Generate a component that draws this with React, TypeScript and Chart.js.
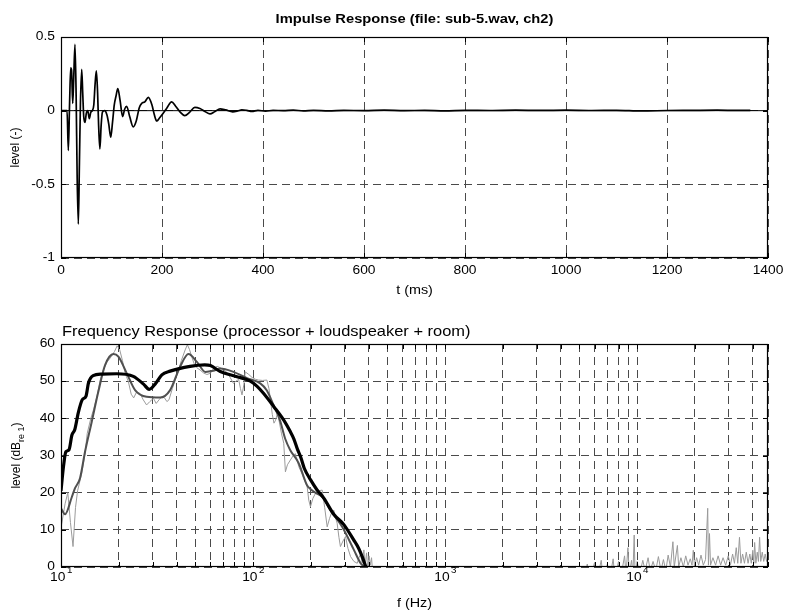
import React, { useEffect, useRef } from "react";
import { Chart, registerables } from "chart.js";

Chart.register(...registerables);

const FONT = '"Liberation Sans", Arial, Helvetica, sans-serif';
const SX = 1.15; // horizontal stretch of the reference text
const GRID = "#4a4a4a";

// ---------------- Impulse response (top) ----------------
const irTimeMs = [
  0, 12, 14.5, 17, 19.2, 21, 23.2, 25, 27.7, 30, 32, 34.3, 36.5, 38.5, 41, 43, 45, 47.5, 50, 53, 56, 59, 62, 65,
  67.5, 70, 72.5, 74.5, 77, 79.5, 82, 86.5, 91, 94.5, 98.5, 102, 105.5, 109, 112.5, 117, 122, 126, 130, 136, 143,
  149, 155, 160, 166, 173, 180, 185, 189.5, 195, 202, 210, 219, 227, 236, 245, 255, 265, 275, 285, 295, 305, 315,
  326, 340, 350, 358, 368, 378, 390, 405, 420, 440, 460, 480, 500, 530, 560, 600, 640, 680, 720, 760, 800, 850,
  900, 950, 1000, 1050, 1100, 1150, 1200, 1250, 1300, 1340, 1365,
];
const irLevel = [
  0, 0, -0.27, 0.05, 0.29, 0.27, 0.05, 0.2, 0.45, 0.1, -0.45, -0.77, -0.35, 0.05, 0.28, 0.12, -0.04, -0.08, -0.02,
  0.0, -0.055, -0.01, 0.0, 0.04, 0.18, 0.27, 0.12, -0.1, -0.26, -0.1, -0.01, 0.0, -0.03, -0.09, -0.18, -0.08, 0.04,
  0.1, 0.15, 0.07, -0.04, 0.01, 0.03, -0.04, -0.11, -0.07, 0.02, 0.05, 0.06, 0.09, 0.04, -0.03, -0.07, -0.05, -0.02,
  0.02, 0.06, 0.03, -0.01, -0.034, -0.01, 0.022, 0.015, -0.005, -0.022, -0.005, 0.012, 0.005, -0.008, -0.002, 0.006,
  0.002, -0.005, 0.002, -0.003, 0.002, 0.0, 0.003, -0.001, 0.002, -0.002, 0.002, 0.0, 0.003, 0.0, 0.002, -0.002,
  0.002, 0.001, 0.003, 0.002, 0.003, 0.001, 0.002, -0.002, 0.001, 0.002, 0.003, 0.002, 0.002,
];
const zeroLineT = [0, 1400];
const zeroLineLevel = [0, 0];
const irXTicks = [0, 200, 400, 600, 800, 1000, 1200, 1400];
const irXTickLabels = ["0", "200", "400", "600", "800", "1000", "1200", "1400"];
const irYTicks = [-1, -0.5, 0, 0.5];
const irYTickLabels = ["-1", "-0.5", "0", "0.5"];

// ---------------- Frequency response (bottom) ----------------
const rawFreq = [
  10, 10.5, 10.85, 11.2, 11.55, 11.9, 12.2, 12.8, 13.3, 13.7, 14.3, 14.8, 15.4, 16.0, 16.6, 17.3, 18.2, 19.0, 19.6,
  20.2, 20.9, 21.6, 22.4, 23.2, 23.9, 24.7, 25.8, 26.8, 27.9, 29.0, 30.3, 31.3, 32.4, 33.5, 34.6, 35.6, 36.5, 38.0,
  40.1, 42.3, 44.3, 45.5, 46.7, 47.9, 49.5, 51, 53, 55.3, 57.5, 59.9, 62.5, 65, 67.5, 70.5, 73.3, 76, 79, 81.5,
  84.1, 86, 87.6, 89.5, 91.1, 95, 98.8, 103, 106.8, 112, 118, 121, 123.5, 126, 128.5, 131, 134, 137, 140.5, 144.5,
  147.4, 151, 156.5, 162, 166, 170, 173, 180, 186, 191.3, 195, 199, 205, 211.3, 220, 229, 236, 243.2, 250, 256,
  263.3, 268, 274, 280, 285, 294, 303, 312, 322, 335, 348.7, 356, 363, 370, 377.6, 383, 390, 396, 402, 408, 414,
  420, 430, 480, 1000, 4500,
  5200, 5500, 5650, 6000, 6150, 6500, 6650, 7000, 7200, 7500, 7650, 8000, 8200, 8600, 8750, 8950, 9100, 9350, 9500,
  9650, 9750, 10000, 10300, 10700, 11000, 11400, 11700, 12100, 12500, 12900, 13300, 13700, 14100, 14500, 14900,
  15350, 15600, 16200, 16450, 16900, 17400, 17900, 18400, 18900, 19300, 19600, 19900, 20400, 20900, 21500, 22100,
  22700, 23300, 23500, 23800, 24100, 24800, 25600, 26400, 27200, 28000, 28900, 29800, 30600, 31400, 32100, 32800,
  33400, 34100, 34700, 35400, 36200, 37000, 37800, 38600, 39300, 40000, 40500, 40900, 41500, 42200, 42800, 43400,
  44000, 44800, 45600, 46400, 47200, 48000,
];
const rawLevel = [
  10.5, 17, 20, 12, 5.5, 16, 20.5, 25, 30, 36, 40, 42.5, 46, 50.3, 53, 55, 56.5, 58, 59.5,
  58.5, 55.5, 52, 50, 46.5, 45.5, 47, 46.7, 45, 43.6, 44.5, 45.4, 44, 45, 45.8, 45.5, 44.5, 45, 48,
  51.5, 55.5, 58.4, 59.8, 58.5, 56.6, 54.5, 53.6, 53, 52.2, 51.8, 52.1, 53.5, 54, 53.6, 53, 52.3, 51, 49.4, 50,
  50.5, 48, 46.3, 49, 52.5, 51.8, 51, 50.5, 50.3, 50.2, 50.3, 48, 44.5, 41, 38.7, 39.5, 41.3, 39, 36, 33.3,
  25.6, 27.5, 28.8, 30, 30.5, 28.5, 27, 25, 23, 21.6, 18, 16.2, 18.5, 19.8, 20.5, 20.7, 16, 10.8, 13, 14.5,
  15.3, 13.5, 11.8, 8, 5.5, 7, 8.2, 5, 2.8, 1.5, 1, 2.5, 3.5, 1, 4.6, 0.5, 3.8, -1, 3, 0.5, 2.5,
  -2, -8, -25, -25, -25,
  -4, 0.8, -4, 1.2, -4, 1.8, -3, 0.8, -3, 2.2, -3, 1.5, -3, 3, -2, 5.2, -2, 1.8, -2,
  8.6, -2, 1.5, -2, 1.8, -1, 2.5, -1, 1.5, -1, 2.8, -1, 2, -1, 3.2, 0,
  6.8, 0, 5.8, 0, 2.5, 0, 3, 0.5, 2.2, 0.5, 4.5, 0, 2.5, 0.5, 3.2, 0.5,
  2, 15.8, 0.5, 9, 0.5, 2.5, 0.5, 3, 0.5, 2.5, 0.5, 3, 0.5, 3.5, 1, 5.2,
  1, 8, 1, 3.5, 1, 4, 1, 3.5, 1, 4.5, 1, 6.6, 1, 4, 1.5, 8,
  1.5, 4, 1.5, 3.5, 1.5, 2.5,
];

const smoothFreq = [
  10, 10.5, 11.4, 11.83, 12.56, 13.34, 14.46, 15.65, 16.96, 18.75, 19.9, 22, 24.3, 27.9, 32.8, 37, 41.7, 46.1, 51,
  56.5, 62, 67.5, 79, 93, 109, 118, 128, 138, 147, 156, 173, 191, 199, 211, 229, 253, 291, 335, 363, 378, 420,
];
const smoothLevel = [
  15.8, 14.2, 18.9, 21.2, 23.9, 31, 39.1, 47.2, 54.3, 57.3, 56.6, 52.1, 47.6, 45.8, 45.6, 47.6, 53.9, 57.3, 55.2,
  52.5, 52.8, 53.4, 52.5, 50.8, 49.4, 47.5, 43.5, 39.5, 34.5, 31.5, 27.9, 22, 21, 20, 18.9, 15.3, 10.8, 4.6, 1, 0,
  -5,
];

const octFreq = [
  10, 10.3, 10.6, 11.0, 11.4, 11.8, 12.3, 12.9, 13.5, 13.9, 14.7, 16.3, 19.5, 23.8, 26.9, 28.8, 30.9, 33.5, 37, 47,
  56, 60, 67.5, 82.5, 96.8, 105, 113, 128, 144.5, 156, 163, 170, 177, 185, 199, 215, 233, 263, 297, 334, 355, 370,
  385, 420,
];
const octLevel = [
  20.5, 27, 31, 31.5, 35.5, 37, 41.5, 45, 46, 49.5, 51.5, 51.9, 52, 51.3, 49.2, 47.8, 49.2, 51.7, 52.7, 54, 54.4,
  54.2, 52.6, 51.2, 50, 48.6, 46.8, 43.2, 39.5, 36.5, 34.5, 31.8, 29.6, 26.5, 23.5, 20.8, 18.6, 14.2, 11.4, 7.3, 5,
  2.8, 0.3, -5,
];

const frGridFreqs = [
  10, 20, 30, 40, 50, 60, 70, 80, 90, 100, 200, 300, 400, 500, 600, 700, 800, 900, 1000, 2000, 3000, 4000, 5000,
  6000, 7000, 8000, 9000, 10000, 20000, 30000, 40000, 48000,
];
const frXLabelValues = [10, 100, 1000, 10000];
const frXLabelExponents = ["1", "2", "3", "4"];
const frYTicks = [0, 10, 20, 30, 40, 50, 60];
const frYTickLabels = ["0", "10", "20", "30", "40", "50", "60"];

// ---------------- helpers ----------------
function txt(ctx: any, s: string, x: number, y: number, size: number, align: string, weight = "normal", sx = SX) {
  ctx.save();
  ctx.font = `${weight} ${size}px ${FONT}`;
  ctx.fillStyle = "#000";
  ctx.textBaseline = "middle";
  ctx.textAlign = align;
  ctx.translate(x, y);
  ctx.scale(sx, 1);
  ctx.fillText(s, 0, 0);
  ctx.restore();
}

function drawBox(ctx: any, a: any) {
  ctx.save();
  ctx.strokeStyle = "#000";
  ctx.lineWidth = 1.2;
  const l = Math.round(a.left) + 0.5;
  const t = Math.round(a.top) + 0.5;
  const r = Math.round(a.right) - 0.5;
  const b = Math.round(a.bottom) - 0.5;
  ctx.strokeRect(l, t, r - l, b - t);
  ctx.restore();
}

function tickMarks(ctx: any, a: any, xs: number[], ys: number[], len = 5) {
  ctx.save();
  ctx.strokeStyle = "#000";
  ctx.lineWidth = 1;
  ctx.beginPath();
  xs.forEach((px) => {
    const p = Math.round(px) + 0.5;
    ctx.moveTo(p, a.bottom);
    ctx.lineTo(p, a.bottom - len);
    ctx.moveTo(p, a.top);
    ctx.lineTo(p, a.top + len);
  });
  ys.forEach((py) => {
    const p = Math.round(py) + 0.5;
    ctx.moveTo(a.left, p);
    ctx.lineTo(a.left + len, p);
    ctx.moveTo(a.right, p);
    ctx.lineTo(a.right - len, p);
  });
  ctx.stroke();
  ctx.restore();
}

const topDecor = {
  id: "topDecor",
  afterDraw(chart: any) {
    const { ctx, chartArea: a, scales } = chart;
    const xs = scales.x;
    const ys = scales.y;
    drawBox(ctx, a);
    tickMarks(
      ctx,
      a,
      irXTicks.map((v) => xs.getPixelForValue(v)),
      irYTicks.map((v) => ys.getPixelForValue(v))
    );
    irXTicks.forEach((v, i) => txt(ctx, irXTickLabels[i], xs.getPixelForValue(v), 271, 12, "center"));
    irYTicks.forEach((v, i) => txt(ctx, irYTickLabels[i], 55, ys.getPixelForValue(v), 12, "right"));
    const cx = (a.left + a.right) / 2;
    txt(ctx, "Impulse Response (file: sub-5.wav, ch2)", cx, 19, 12.8, "center", "bold");
    txt(ctx, "t (ms)", cx, 291, 12.5, "center");
    ctx.save();
    ctx.translate(15.5, (a.top + a.bottom) / 2);
    ctx.rotate(-Math.PI / 2);
    ctx.font = `12px ${FONT}`;
    ctx.fillStyle = "#000";
    ctx.textAlign = "center";
    ctx.textBaseline = "middle";
    ctx.fillText("level (-)", 0, 0);
    ctx.restore();
  },
};

const bottomDecor = {
  id: "bottomDecor",
  afterDraw(chart: any) {
    const { ctx, chartArea: a, scales } = chart;
    const xs = scales.x;
    const ys = scales.y;
    drawBox(ctx, a);
    tickMarks(
      ctx,
      a,
      frGridFreqs.map((v) => xs.getPixelForValue(v)),
      frYTicks.map((v) => ys.getPixelForValue(v))
    );
    frYTicks.forEach((v, i) => txt(ctx, frYTickLabels[i], 55, ys.getPixelForValue(v), 12, "right"));
    frXLabelValues.forEach((v, i) => {
      const px = xs.getPixelForValue(v);
      ctx.save();
      ctx.font = `12px ${FONT}`;
      const w1 = ctx.measureText("10").width * SX;
      ctx.font = `8.5px ${FONT}`;
      const w2 = ctx.measureText(frXLabelExponents[i]).width * SX;
      ctx.restore();
      const start = px - (w1 + w2 + 1) / 2;
      txt(ctx, "10", start, 277.5, 12, "left");
      txt(ctx, frXLabelExponents[i], start + w1 + 1.5, 270.5, 8.5, "left");
    });
    txt(ctx, "Frequency Response (processor + loudspeaker + room)", 62, 32, 14.3, "left");
    txt(ctx, "f (Hz)", (a.left + a.right) / 2, 303.5, 12.5, "center");
    ctx.save();
    ctx.translate(17, (a.top + a.bottom) / 2);
    ctx.rotate(-Math.PI / 2);
    ctx.fillStyle = "#000";
    ctx.textBaseline = "middle";
    ctx.textAlign = "left";
    const p1 = "level (dB";
    const sub = "re 1";
    const p3 = ")";
    ctx.font = `12px ${FONT}`;
    const w1 = ctx.measureText(p1).width;
    const w3 = ctx.measureText(p3).width;
    ctx.font = `9px ${FONT}`;
    const w2 = ctx.measureText(sub).width;
    let x0 = -(w1 + w2 + w3) / 2;
    ctx.font = `12px ${FONT}`;
    ctx.fillText(p1, x0, 0);
    x0 += w1;
    ctx.font = `9px ${FONT}`;
    ctx.fillText(sub, x0, 4.5);
    x0 += w2;
    ctx.font = `12px ${FONT}`;
    ctx.fillText(p3, x0, 0);
    ctx.restore();
  },
};

function pts(xs: number[], ys: number[]) {
  return xs.map((x, i) => ({ x, y: ys[i] }));
}

function gridAxis(extra: any) {
  return {
    ticks: { display: false },
    grid: { color: GRID, lineWidth: 1, drawTicks: false },
    border: { display: false, dash: [8, 5] },
    ...extra,
  };
}

export default function App() {
  const topRef = useRef<HTMLCanvasElement>(null);
  const botRef = useRef<HTMLCanvasElement>(null);

  useEffect(() => {
    const common = {
      responsive: false,
      animation: false as const,
      devicePixelRatio: 1,
      events: [] as any[],
      plugins: { legend: { display: false }, tooltip: { enabled: false }, title: { display: false } },
    };
    const top = new Chart(topRef.current as HTMLCanvasElement, {
      type: "scatter",
      data: {
        datasets: [
          {
            data: pts(irTimeMs, irLevel),
            showLine: true,
            borderColor: "#000",
            borderWidth: 1.7,
            pointRadius: 0,
            cubicInterpolationMode: "monotone",
          },
          {
            data: pts(zeroLineT, zeroLineLevel),
            showLine: true,
            borderColor: "#000",
            borderWidth: 1,
            pointRadius: 0,
          },
        ],
      },
      options: {
        ...common,
        layout: { padding: { left: 0, right: 19, top: 37, bottom: 0 } },
        scales: {
          x: gridAxis({
            type: "linear",
            min: 0,
            max: 1400,
            afterBuildTicks: (s: any) => {
              s.ticks = irXTicks.map((v) => ({ value: v }));
            },
            afterFit: (s: any) => {
              s.height = 42;
            },
          }),
          y: gridAxis({
            type: "linear",
            min: -1,
            max: 0.5,
            afterBuildTicks: (s: any) => {
              s.ticks = irYTicks.map((v) => ({ value: v }));
            },
            afterFit: (s: any) => {
              s.width = 61;
            },
          }),
        },
      } as any,
      plugins: [topDecor],
    });

    const bottom = new Chart(botRef.current as HTMLCanvasElement, {
      type: "scatter",
      data: {
        datasets: [
          {
            data: pts(octFreq, octLevel),
            showLine: true,
            borderColor: "#000",
            borderWidth: 3.2,
            pointRadius: 0,
            cubicInterpolationMode: "monotone",
          },
          {
            data: pts(smoothFreq, smoothLevel),
            showLine: true,
            borderColor: "#505050",
            borderWidth: 2,
            pointRadius: 0,
            cubicInterpolationMode: "monotone",
          },
          {
            data: pts(rawFreq, rawLevel),
            showLine: true,
            borderColor: "#9a9a9a",
            borderWidth: 1,
            pointRadius: 0,
            tension: 0,
          },
        ],
      },
      options: {
        ...common,
        layout: { padding: { left: 0, right: 19, top: 44, bottom: 0 } },
        scales: {
          x: gridAxis({
            type: "logarithmic",
            min: 10,
            max: 48000,
            afterBuildTicks: (s: any) => {
              s.ticks = frGridFreqs.map((v) => ({ value: v }));
            },
            afterFit: (s: any) => {
              s.height = 47;
            },
          }),
          y: gridAxis({
            type: "linear",
            min: 0,
            max: 60,
            afterBuildTicks: (s: any) => {
              s.ticks = frYTicks.map((v) => ({ value: v }));
            },
            afterFit: (s: any) => {
              s.width = 61;
            },
          }),
        },
      } as any,
      plugins: [bottomDecor],
    });

    return () => {
      top.destroy();
      bottom.destroy();
    };
  }, []);

  return (
    <div style={{ position: "absolute", left: 0, top: 0, width: 787, height: 614, background: "#fff" }}>
      <canvas
        ref={topRef}
        width={787}
        height={300}
        style={{ position: "absolute", left: 0, top: 0, width: 787, height: 300 }}
      />
      <canvas
        ref={botRef}
        width={787}
        height={314}
        style={{ position: "absolute", left: 0, top: 300, width: 787, height: 314 }}
      />
    </div>
  );
}
